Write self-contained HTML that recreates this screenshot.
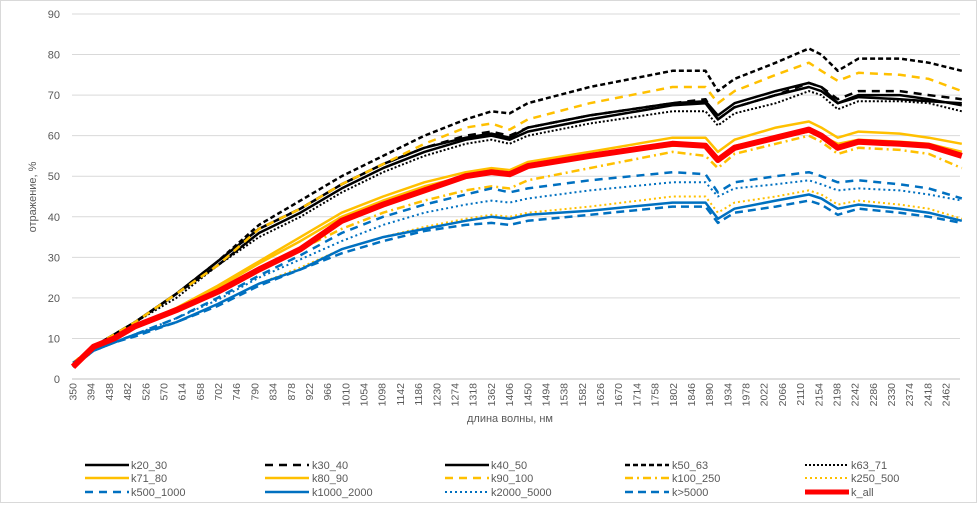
<!DOCTYPE html>
<html><head><meta charset="utf-8"><style>
body{margin:0;background:#fff;}
svg{display:block;font-family:"Liberation Sans",sans-serif;}
</style></head><body>
<svg id="chart" width="979" height="505">
<rect x="0.5" y="0.5" width="976" height="502" fill="#fff" stroke="#d9d9d9"/>
<g id="grid"></g><g id="series"></g><g id="axes"></g><g id="legend"></g>
<text x="510" y="422" font-size="11" fill="#595959" text-anchor="middle">длина волны, нм</text>
<text transform="translate(36,197) rotate(-90)" font-size="11" fill="#595959" text-anchor="middle">отражение, %</text>
</svg>
<script>
const wavelengths=[350,400,450,500,600,700,800,900,1000,1100,1200,1300,1362,1406,1450,1600,1800,1880,1910,1950,2050,2130,2160,2200,2250,2350,2420,2500];
const k20_30=[3,8,11,14,21,28,36,41,47,52,56,59,60,59,61,64,67.5,68,64,67,70,72,71,68,69.5,69,68.5,68];
const k30_40=[3,8,11,14,21,29,37,42,48,53,57,60,61,60,62,65,68,69,64,67,70,73,72,69,71,71,70,69];
const k40_50=[3,8,11,14,21,29,37,42,48,53,57,59.5,60.5,59.5,62,65,68,68.5,65,68,71,73,72,68,70,70,69,67.5];
const k50_63=[3,8,11,14,21,29,38,44,50,55,60,64,66,65.5,68,72,76,76,71,74,78,81.5,80,76,79,79,78,76];
const k63_71=[3,8,11,14,20,28,35,40,46,51,55,58,59,58,60,63,66,66,62.5,65.5,68,71,70,66.5,68.5,68.5,68,66];
const k71_80=[3,7.5,10,13,17.5,23,29,35,41,45,48.5,51,52,51.5,53.5,56,59.5,59.5,56,59,62,63.5,62,59.5,61,60.5,59.5,58];
const k80_90=[3,7.5,10,13,17.5,22.5,28.5,34,40,44,47.5,50,51,50.5,52.5,55,57.5,57.5,54,57.5,59.5,61,60,58,59,58.5,58,56];
const k90_100=[4,8,11,14,21,28,37,42,48,53,58,62,63,61.5,64,68,72,72,68,71,75,78,76,73.5,75.5,75,74,71];
const k100_250=[4,8,10,13,17,21.5,27,32,37,41,44,46.5,47.5,47,49,52,56,55,52,55.5,58,60,58.5,55.5,57,56.5,55.5,52];
const k250_500=[4,7,9,11,14,18.5,23.5,27.5,32,35,37.5,39.5,40.5,40,41,42.5,45,45,41,43.5,45,46.5,45.5,43,44,43,42,39.5];
const k500_1000=[4,7,9,11,15,20,25.5,30.5,36,40,43,45.5,47,46,47,49,51,50.5,46,48.5,50,51,50,48.5,49,48,47,44.5];
const k1000_2000=[3,7,9,11,14,18.5,23.5,27,32,35,37,39,40,39.5,40.5,41.5,43.5,43.5,39.5,42,44,45.5,44.5,42,43,42,41,39];
const k2000_5000=[4,7,9,11,15,19.5,25,29.5,34,38,41,43,44,43.5,44.5,46.5,48.5,48.5,45,47,48,49,48,46.5,47,46.5,45.5,44];
const k_gt5000=[3,7,9,10.5,14,18,23,27,31,34,36.5,38,38.5,38,39,40.5,42.5,42.5,38.5,41,42.5,44,43,40.5,42,41,40,38.5];
const k_all=[3,8,10,13,17,21.5,27,32,39,43,46.5,50,51,50.5,52.5,55,58,57.5,54,57,59.5,61.5,60,57,58.5,58,57.5,55];
const yTicks=[0,10,20,30,40,50,60,70,80,90];
const xTickLabels=[];for(let v=350;v<=2462;v+=44)xTickLabels.push(v);

const NS="http://www.w3.org/2000/svg";
const X0=73,PXNM=18.19/44,Y0=379,PXU=365/90;
const xs=nm=>X0+(nm-350)*PXNM;
const ys=v=>Y0-v*PXU;
function mk(t,a,p){const e=document.createElementNS(NS,t);for(const k in a)e.setAttribute(k,a[k]);p.appendChild(e);return e;}
const grid=document.getElementById('grid'),axes=document.getElementById('axes'),ser=document.getElementById('series'),leg=document.getElementById('legend');
yTicks.forEach(v=>{
 const l=mk('line',{x1:72,x2:960,y1:ys(v),y2:ys(v),stroke:v===0?'#bfbfbf':'#d9d9d9','stroke-width':1},grid);
 
 
 const t=mk('text',{x:60,y:ys(v)+4,'font-size':11,fill:'#595959','text-anchor':'end'},axes);
 t.textContent=v;
 
 
});
xTickLabels.forEach(v=>{
 const x=xs(v);
 const t=mk('text',{transform:`translate(${x+3.5},383) rotate(-90)`,'font-size':10.5,fill:'#595959','text-anchor':'end'},axes);
 t.textContent=v;
 
 
});
const Y='#FFC000',B='#0070C0',K='#000';
const defs=[
 ['k20_30',k20_30,K,2.5,''],['k30_40',k30_40,K,2.5,'8 6'],['k40_50',k40_50,K,2.5,''],['k50_63',k50_63,K,2.5,'5 3'],['k63_71',k63_71,K,2,'2 2'],
 ['k71_80',k71_80,Y,2.5,''],['k80_90',k80_90,Y,2.5,''],['k90_100',k90_100,Y,2.5,'8 6'],['k100_250',k100_250,Y,2.5,'8 4 2 4'],['k250_500',k250_500,Y,2,'2 3'],
 ['k500_1000',k500_1000,B,2.5,'8 6'],['k1000_2000',k1000_2000,B,2.5,''],['k2000_5000',k2000_5000,B,2,'2 3'],['k>5000',k_gt5000,B,2.5,'8 5'],['k_all',k_all,'#FF0000',6,'']
];
defs.forEach(([n,d,c,w,da])=>{
 const pts=d.map((v,i)=>xs(wavelengths[i]).toFixed(1)+','+ys(v).toFixed(1)).join(' ');
 const p=mk('polyline',{points:pts,fill:'none',stroke:c,'stroke-width':w,'stroke-dasharray':da,'stroke-linejoin':'round'},ser);
 
 
});
const colX=[85,265,445,625,805],txtX=[131,312,491,672,851],rowY=[465,478,492];
defs.forEach(([n,,c,w,da],i)=>{
 const r=Math.floor(i/5),col=i%5;
 const g=mk('g',{},leg);
 
 
 mk('line',{x1:colX[col],x2:colX[col]+44,y1:rowY[r],y2:rowY[r],stroke:c,'stroke-width':w===6?5:w,'stroke-dasharray':da},g);
 const t=mk('text',{x:txtX[col],y:rowY[r]+4,'font-size':11,fill:'#595959'},g);
 t.textContent=n;
});
</script>
</body></html>
